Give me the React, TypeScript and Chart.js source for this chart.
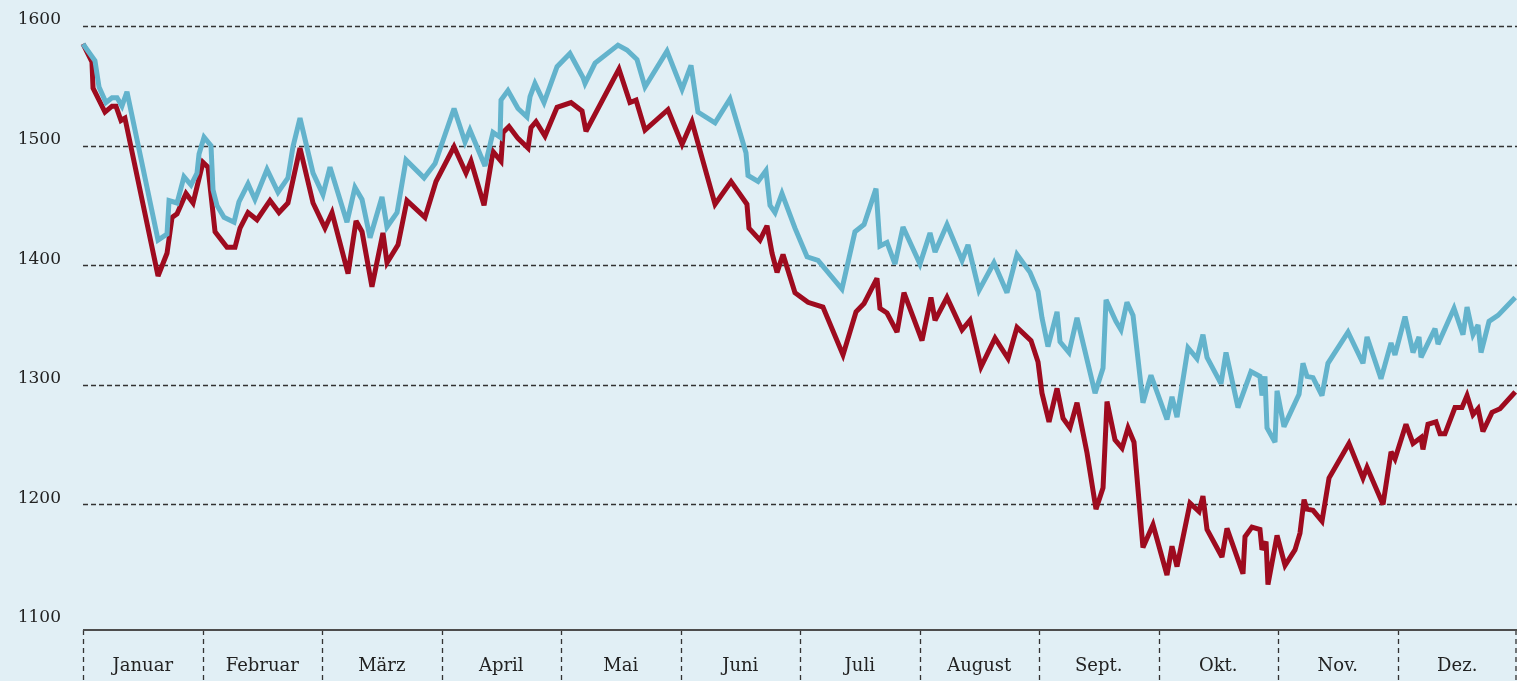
import React, { useEffect, useRef } from "react";
import { Chart, registerables } from "chart.js";

Chart.register(...registerables);

// x positions are in months since the start of the year (0 = 1 Jan, 12 = 31 Dec)
const monthLabels = ["Januar", "Februar", "März", "April", "Mai", "Juni", "Juli", "August", "Sept.", "Okt.", "Nov.", "Dez."];
const yTickValues = [1100, 1200, 1300, 1400, 1500, 1600];
const gridValues = [1200, 1300, 1400, 1500, 1600];

const blueX = [0, 0.1, 0.134, 0.192, 0.243, 0.285, 0.326, 0.368, 0.628, 0.703, 0.72, 0.787, 0.845, 0.904, 0.954, 0.971, 1.013, 1.071, 1.088, 1.121, 1.18, 1.264, 1.305, 1.381, 1.439, 1.54, 1.632, 1.715, 1.757, 1.816, 1.925, 2.008, 2.067, 2.209, 2.276, 2.335, 2.402, 2.502, 2.544, 2.628, 2.703, 2.854, 2.946, 3.105, 3.197, 3.238, 3.364, 3.431, 3.49, 3.498, 3.556, 3.64, 3.715, 3.741, 3.782, 3.858, 3.967, 4.075, 4.184, 4.201, 4.285, 4.477, 4.552, 4.636, 4.703, 4.887, 5.013, 5.088, 5.146, 5.289, 5.414, 5.548, 5.565, 5.649, 5.715, 5.749, 5.791, 5.849, 5.958, 6.059, 6.151, 6.351, 6.46, 6.536, 6.636, 6.669, 6.728, 6.795, 6.862, 7.004, 7.088, 7.13, 7.23, 7.356, 7.406, 7.498, 7.623, 7.732, 7.816, 7.925, 7.992, 8.025, 8.075, 8.151, 8.176, 8.251, 8.318, 8.469, 8.536, 8.561, 8.644, 8.686, 8.736, 8.787, 8.87, 8.937, 9.071, 9.113, 9.155, 9.247, 9.322, 9.372, 9.406, 9.523, 9.565, 9.665, 9.774, 9.849, 9.866, 9.891, 9.908, 9.975, 9.992, 10.05, 10.176, 10.209, 10.243, 10.293, 10.368, 10.418, 10.586, 10.711, 10.745, 10.862, 10.946, 10.979, 11.063, 11.13, 11.18, 11.197, 11.314, 11.339, 11.473, 11.548, 11.582, 11.632, 11.674, 11.699, 11.766, 11.841, 11.985];
const blueY = [1585, 1571, 1549, 1536, 1540, 1540, 1533, 1545, 1421, 1426, 1454, 1452, 1474, 1467, 1477, 1493, 1507, 1500, 1463, 1450, 1440, 1436, 1453, 1468, 1455, 1480, 1461, 1473, 1499, 1523, 1477, 1459, 1482, 1436, 1465, 1455, 1423, 1457, 1432, 1444, 1488, 1473, 1485, 1531, 1503, 1513, 1483, 1511, 1507, 1538, 1546, 1531, 1524, 1541, 1552, 1536, 1566, 1577, 1557, 1552, 1569, 1584, 1580, 1572, 1549, 1579, 1547, 1567, 1528, 1519, 1539, 1494, 1475, 1470, 1479, 1450, 1444, 1460, 1431, 1407, 1404, 1380, 1428, 1434, 1464, 1416, 1419, 1401, 1432, 1401, 1427, 1411, 1434, 1404, 1417, 1379, 1402, 1377, 1409, 1394, 1378, 1356, 1332, 1361, 1336, 1327, 1356, 1293, 1314, 1371, 1353, 1346, 1369, 1358, 1285, 1308, 1271, 1290, 1273, 1331, 1322, 1342, 1323, 1301, 1327, 1281, 1311, 1307, 1291, 1307, 1264, 1252, 1295, 1265, 1292, 1318, 1307, 1306, 1291, 1318, 1344, 1318, 1340, 1305, 1335, 1325, 1357, 1327, 1340, 1323, 1347, 1334, 1364, 1342, 1365, 1342, 1350, 1327, 1353, 1358, 1373];

const redX = [0, 0.075, 0.084, 0.184, 0.243, 0.276, 0.318, 0.351, 0.628, 0.703, 0.745, 0.787, 0.862, 0.921, 1.004, 1.046, 1.105, 1.205, 1.272, 1.314, 1.381, 1.456, 1.565, 1.64, 1.715, 1.816, 1.925, 2.025, 2.084, 2.218, 2.285, 2.335, 2.418, 2.51, 2.544, 2.636, 2.711, 2.862, 2.954, 3.105, 3.205, 3.247, 3.356, 3.431, 3.498, 3.515, 3.565, 3.64, 3.724, 3.749, 3.791, 3.866, 3.967, 4.084, 4.176, 4.209, 4.485, 4.577, 4.628, 4.703, 4.895, 5.013, 5.096, 5.18, 5.289, 5.423, 5.556, 5.573, 5.665, 5.724, 5.766, 5.808, 5.858, 5.958, 6.067, 6.192, 6.36, 6.469, 6.536, 6.644, 6.669, 6.728, 6.812, 6.87, 7.021, 7.096, 7.13, 7.23, 7.356, 7.423, 7.515, 7.632, 7.741, 7.816, 7.933, 7.992, 8.025, 8.084, 8.151, 8.201, 8.259, 8.318, 8.402, 8.477, 8.536, 8.569, 8.636, 8.695, 8.745, 8.795, 8.87, 8.954, 9.071, 9.113, 9.155, 9.264, 9.339, 9.372, 9.406, 9.531, 9.573, 9.707, 9.724, 9.782, 9.849, 9.866, 9.9, 9.916, 9.992, 10.059, 10.142, 10.184, 10.218, 10.243, 10.293, 10.368, 10.427, 10.594, 10.711, 10.745, 10.879, 10.946, 10.979, 11.071, 11.13, 11.197, 11.213, 11.255, 11.322, 11.356, 11.397, 11.481, 11.54, 11.582, 11.632, 11.674, 11.715, 11.791, 11.858, 11.985];
const redY = [1585, 1570, 1548, 1528, 1533, 1533, 1521, 1523, 1391, 1410, 1440, 1443, 1460, 1452, 1486, 1482, 1428, 1415, 1415, 1431, 1444, 1438, 1454, 1444, 1452, 1498, 1452, 1431, 1444, 1393, 1437, 1428, 1382, 1427, 1402, 1417, 1454, 1440, 1470, 1499, 1477, 1487, 1450, 1495, 1487, 1511, 1516, 1506, 1498, 1515, 1520, 1508, 1532, 1536, 1529, 1512, 1564, 1536, 1538, 1513, 1530, 1501, 1520, 1490, 1451, 1470, 1451, 1431, 1421, 1433, 1410, 1394, 1409, 1377, 1369, 1365, 1325, 1361, 1368, 1389, 1364, 1360, 1344, 1377, 1337, 1373, 1354, 1373, 1346, 1354, 1315, 1339, 1322, 1348, 1337, 1319, 1293, 1269, 1297, 1272, 1264, 1285, 1243, 1196, 1214, 1286, 1254, 1247, 1264, 1252, 1164, 1183, 1141, 1165, 1148, 1201, 1194, 1207, 1179, 1156, 1180, 1142, 1173, 1181, 1179, 1162, 1169, 1133, 1174, 1149, 1162, 1176, 1204, 1196, 1195, 1186, 1222, 1251, 1222, 1231, 1200, 1244, 1238, 1267, 1251, 1256, 1246, 1267, 1269, 1259, 1259, 1281, 1281, 1291, 1275, 1280, 1261, 1277, 1280, 1294];

const BG = "#e1eff5";
const BLUE = "#63b3cc";
const RED = "#9e0b1f";
const TEXT = "#222222";

const toPoints = (xs: number[], ys: number[]) => xs.map((x, i) => ({ x, y: ys[i] }));

const decorPlugin = {
  id: "decor",
  beforeDatasetsDraw(chart: any) {
    const { ctx, chartArea, scales } = chart;
    const xs = scales.x;
    const ys = scales.y;
    ctx.save();
    // horizontal dashed gridlines
    ctx.strokeStyle = "#333333";
    ctx.lineWidth = 1.3;
    ctx.setLineDash([5, 3]);
    gridValues.forEach((v) => {
      const y = Math.round(ys.getPixelForValue(v)) + 0.5;
      ctx.beginPath();
      ctx.moveTo(chartArea.left, y);
      ctx.lineTo(chartArea.right, y);
      ctx.stroke();
    });
    // month separators
    ctx.setLineDash([5, 4]);
    ctx.lineWidth = 1.3;
    for (let m = 0; m <= 12; m++) {
      let x = Math.round(xs.getPixelForValue(m)) + 0.5;
      if (m === 12) x = chartArea.right - 1;
      ctx.beginPath();
      ctx.moveTo(x, chartArea.bottom);
      ctx.lineTo(x, chart.height);
      ctx.stroke();
    }
    // bottom axis line
    ctx.setLineDash([]);
    ctx.strokeStyle = "#4d4d4d";
    ctx.lineWidth = 2;
    ctx.beginPath();
    ctx.moveTo(chartArea.left, chartArea.bottom);
    ctx.lineTo(chartArea.right, chartArea.bottom);
    ctx.stroke();
    ctx.restore();
    // limit sharp miter spikes on the lines
    ctx.miterLimit = 3;
  },
  afterDatasetsDraw(chart: any) {
    chart.ctx.miterLimit = 10;
  },
  afterDraw(chart: any) {
    const { ctx, chartArea, scales } = chart;
    const xs = scales.x;
    const ys = scales.y;
    ctx.save();
    ctx.fillStyle = TEXT;
    ctx.font = "17px 'DejaVu Serif'";
    ctx.textAlign = "right";
    ctx.textBaseline = "middle";
    yTickValues.forEach((v) => {
      ctx.fillText(String(v), 61, ys.getPixelForValue(v) - 6);
    });
    ctx.font = "18px 'DejaVu Serif'";
    ctx.textAlign = "center";
    monthLabels.forEach((m, i) => {
      ctx.fillText(m, xs.getPixelForValue(i + 0.5), chartArea.bottom + 36);
    });
    ctx.restore();
  },
};

export default function App() {
  const ref = useRef<HTMLCanvasElement | null>(null);
  useEffect(() => {
    if (!ref.current) return;
    const chart = new Chart(ref.current, {
      type: "line",
      data: {
        datasets: [
          {
            data: toPoints(blueX, blueY),
            borderColor: BLUE,
            borderWidth: 5,
            pointRadius: 0,
            tension: 0,
            borderJoinStyle: "miter",
            fill: false,
            clip: false as any,
          },
          {
            data: toPoints(redX, redY),
            borderColor: RED,
            borderWidth: 5,
            pointRadius: 0,
            tension: 0,
            borderJoinStyle: "miter",
            fill: false,
            clip: false as any,
          },
        ],
      },
      options: {
        animation: false,
        responsive: false,
        devicePixelRatio: 1,
        layout: { padding: { left: 83, right: 0, top: 26, bottom: 51 } },
        plugins: { legend: { display: false }, tooltip: { enabled: false } },
        events: [],
        scales: {
          x: { type: "linear", min: 0, max: 12, display: false },
          y: { type: "linear", min: 1095, max: 1600, display: false },
        },
      },
      plugins: [decorPlugin],
    });
    return () => chart.destroy();
  }, []);
  return (
    <div style={{ position: "fixed", left: 0, top: 0, width: 1517, height: 681, background: BG }}>
      <canvas ref={ref} width={1517} height={681} style={{ display: "block" }} />
    </div>
  );
}
